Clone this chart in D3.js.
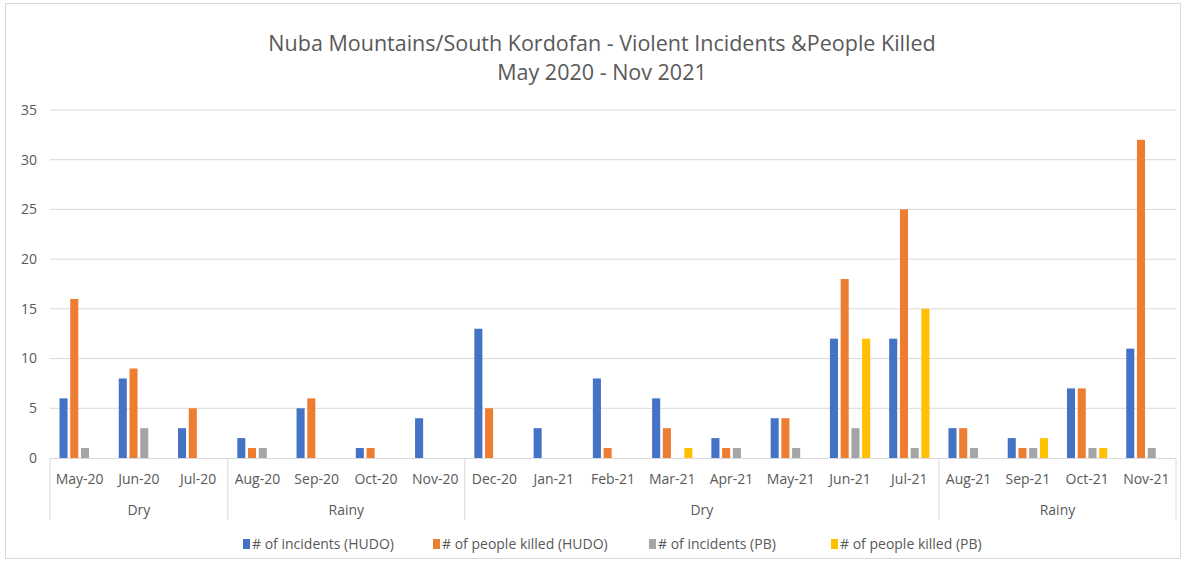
<!DOCTYPE html>
<html><head><meta charset="utf-8">
<script src="https://cdn.jsdelivr.net/npm/d3@7"></script>
<style>body{margin:0;background:#fff;font-family:"Open Sans",Lato,sans-serif;}</style>
</head><body><svg id="c" width="1186" height="564"></svg>
<script>
const categories = ["May-20","Jun-20","Jul-20","Aug-20","Sep-20","Oct-20","Nov-20","Dec-20","Jan-21","Feb-21","Mar-21","Apr-21","May-21","Jun-21","Jul-21","Aug-21","Sep-21","Oct-21","Nov-21"];
const seasons = [{name:"Dry",start:0,end:3},{name:"Rainy",start:3,end:7},{name:"Dry",start:7,end:15},{name:"Rainy",start:15,end:19}];
const seriesNames = ["# of incidents (HUDO)","# of people killed (HUDO)","# of incidents (PB)","# of people killed (PB)"];
const incidentsHUDO = [6,8,3,2,5,1,4,13,3,8,6,2,4,12,12,3,2,7,11];
const killedHUDO    = [16,9,5,1,6,1,0,5,0,1,3,1,4,18,25,3,1,7,32];
const incidentsPB   = [1,3,0,1,0,0,0,0,0,0,0,1,1,3,1,1,1,1,1];
const killedPB      = [0,0,0,0,0,0,0,0,0,0,1,0,0,12,15,0,2,1,0];
const yTicks = [0,5,10,15,20,25,30,35];
const colors = ["#4472C4","#ED7D31","#A5A5A5","#FFC000"];
const seriesValues = [incidentsHUDO, killedHUDO, incidentsPB, killedPB];

(function(){
const svg = d3.select("#c");
const mLeft = 50, mRight = 1176, mTop = 110, mBottom = 458;
const font = '"Open Sans", Lato, sans-serif';
const txt = "#595959";

svg.append("rect").attr("x",5.5).attr("y",3.5).attr("width",1175).attr("height",555)
  .attr("fill","#fff").attr("stroke","#d9d9d9");

const x0 = d3.scaleBand().domain(categories.map((d,i)=>i)).range([mLeft,mRight]).padding(0);
const x1 = d3.scaleBand().domain(d3.range(4)).range([9.5, x0.bandwidth()-9.5]).paddingInner(0.25);
const y = d3.scaleLinear().domain([0,35]).range([mBottom, mTop]);

svg.append("g").selectAll("line").data(yTicks.filter(t=>t>0)).join("line")
  .attr("x1",mLeft).attr("x2",mRight).attr("y1",d=>y(d)).attr("y2",d=>y(d))
  .attr("stroke","#d9d9d9").attr("stroke-width",1);

svg.append("g").selectAll("text").data(yTicks).join("text")
  .attr("x",37).attr("y",d=>y(d)).attr("dy","0.35em").attr("text-anchor","end")
  .attr("font-family",font).attr("font-size",14).attr("fill",txt).text(d=>d);

const g = svg.append("g");
categories.forEach((c,i)=>{
  seriesValues.forEach((vals,s)=>{
    const v = vals[i];
    if(v>0){
      g.append("rect").attr("x",x0(i)+x1(s)).attr("width",x1.bandwidth())
       .attr("y",y(v)).attr("height",y(0)-y(v)).attr("fill",colors[s]);
    }
  });
});

svg.append("line").attr("x1",mLeft).attr("x2",mRight).attr("y1",mBottom+0.5).attr("y2",mBottom+0.5).attr("stroke","#d9d9d9");

svg.append("g").selectAll("text").data(categories).join("text")
  .attr("x",(d,i)=>x0(i)+x0.bandwidth()/2).attr("y",479).attr("dy","0.35em").attr("text-anchor","middle")
  .attr("font-family",font).attr("font-size",14).attr("fill",txt).text(d=>d);

const bounds = [0,3,7,15,19];
svg.append("g").selectAll("line").data(bounds).join("line")
  .attr("x1",d=> d===19 ? mRight : x0(d)).attr("x2",d=> d===19 ? mRight : x0(d))
  .attr("y1",mBottom).attr("y2",520).attr("stroke","#d9d9d9");

svg.append("g").selectAll("text").data(seasons).join("text")
  .attr("x",d=>{const a = x0(d.start); const b = d.end===19? mRight : x0(d.end); return (a+b)/2;})
  .attr("y",510).attr("dy","0.35em").attr("text-anchor","middle")
  .attr("font-family",font).attr("font-size",14).attr("fill",txt).text(d=>d.name);

svg.append("text").attr("x",602).attr("y",51).attr("text-anchor","middle")
  .attr("font-family",font).attr("font-size",21.5).attr("fill",txt)
  .text("Nuba Mountains/South Kordofan - Violent Incidents &People Killed");
svg.append("text").attr("x",602).attr("y",80).attr("text-anchor","middle")
  .attr("font-family",font).attr("font-size",21.5).attr("fill",txt)
  .text("May 2020 - Nov 2021");

const legX = [243, 433, 649, 831];
const leg = svg.append("g");
seriesNames.forEach((n,i)=>{
  leg.append("rect").attr("x",legX[i]).attr("y",539).attr("width",7).attr("height",10).attr("fill",colors[i]);
  leg.append("text").attr("x",legX[i]+9).attr("y",544).attr("dy","0.35em")
    .attr("font-family",font).attr("font-size",14).attr("fill",txt).text(n);
});
})();
</script></body></html>
